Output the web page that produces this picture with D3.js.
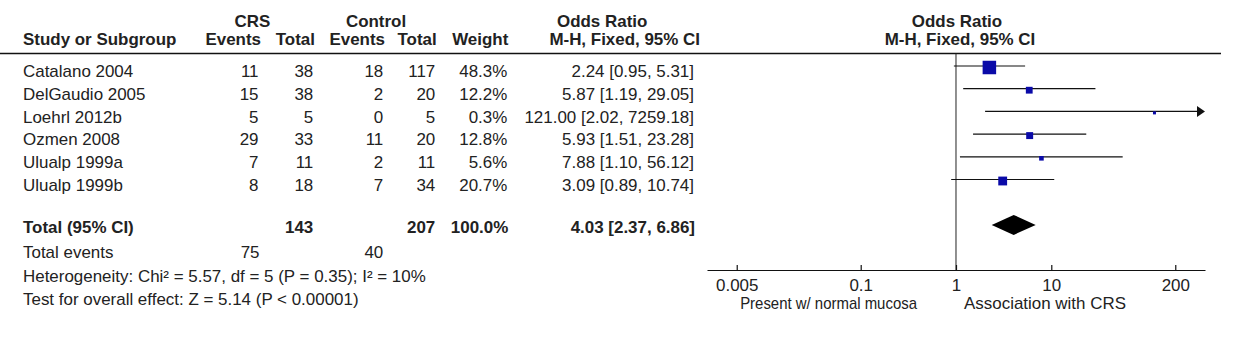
<!DOCTYPE html>
<html>
<head>
<meta charset="utf-8">
<script src="https://cdn.jsdelivr.net/npm/d3@7"></script>
<style>
  html, body { margin: 0; padding: 0; background: #fff; }
  svg { display: block; }
  text { font-family: "Liberation Sans", Arial, sans-serif; font-size: 16px; fill: #222; }
</style>
</head>
<body>
<svg id="chart" width="1245" height="338"></svg>
<script>
// ---- Study data ----
const studies = ["Catalano 2004", "DelGaudio 2005", "Loehrl 2012b", "Ozmen 2008", "Ulualp 1999a", "Ulualp 1999b"];
const crsEvents = [11, 15, 5, 29, 7, 8];
const crsTotal = [38, 38, 5, 33, 11, 18];
const controlEvents = [18, 2, 0, 11, 2, 7];
const controlTotal = [117, 20, 5, 20, 11, 34];
const weights = [48.3, 12.2, 0.3, 12.8, 5.6, 20.7];
const oddsRatio = [2.24, 5.87, 121.00, 5.93, 7.88, 3.09];
const ciLower = [0.95, 1.19, 2.02, 1.51, 1.10, 0.89];
const ciUpper = [5.31, 29.05, 7259.18, 23.28, 56.12, 10.74];

// ---- Pooled result ----
const pooledEstimate = [4.03, 2.37, 6.86];   // OR, lower, upper
const totalParticipants = [143, 207];        // CRS, control
const totalEvents = [75, 40];                // CRS, control
const totalWeight = 100.0;

// ---- Axis & notes ----
const axisTicks = [0.005, 0.1, 1, 10, 200];
const footnotes = [
  "Heterogeneity: Chi\u00b2 = 5.57, df = 5 (P = 0.35); I\u00b2 = 10%",
  "Test for overall effect: Z = 5.14 (P < 0.00001)"
];
const favourLabels = ["Present w/ normal mucosa", "Association with CRS"];

// ---- Drawing ----
const svg = d3.select("#chart");
const SX = 1.06;                       // slight horizontal stretch of the type
const f2 = d3.format(".2f");
const f1 = d3.format(".1f");

function label(x, y, s, anchor = "start", bold = false, sx = SX) {
  return svg.append("text")
    .attr("transform", `translate(${x},${y}) scale(${sx},1)`)
    .attr("text-anchor", anchor)
    .style("font-weight", bold ? "bold" : "normal")
    .text(s);
}

const x = d3.scaleLog().domain([0.002438, 410.2]).range([707, 1205]);
const rowY = d3.scaleLinear().domain([0, 7]).range([66, 224.9]);
const boxSize = d3.scaleSqrt().domain([0, 48.3]).range([0, 13.5]);

// header
label(252.5, 26.7, "CRS", "middle", true);
label(376, 26.7, "Control", "middle", true);
label(557, 26.7, "Odds Ratio", "start", true);
label(957, 26.7, "Odds Ratio", "middle", true);

label(23, 45, "Study or Subgroup", "start", true);
label(261, 45, "Events", "end", true);
label(315, 45, "Total", "end", true);
label(385, 45, "Events", "end", true);
label(436.7, 45, "Total", "end", true);
label(508.3, 45, "Weight", "end", true);
label(700, 45, "M-H, Fixed, 95% CI", "end", true);
label(960, 45, "M-H, Fixed, 95% CI", "middle", true);

svg.append("line")
  .attr("x1", 0).attr("x2", 1221).attr("y1", 53.5).attr("y2", 53.5)
  .attr("stroke", "#111").attr("stroke-width", 1.4);

// line of no effect
svg.append("line")
  .attr("x1", x(1)).attr("x2", x(1)).attr("y1", 53.5).attr("y2", 270)
  .attr("stroke", "#222").attr("stroke-width", 1);

// study rows
studies.forEach((name, i) => {
  const ty = rowY(i) + 11.3;
  label(23, ty, name);
  label(258.5, ty, String(crsEvents[i]), "end");
  label(313.3, ty, String(crsTotal[i]), "end");
  label(383.3, ty, String(controlEvents[i]), "end");
  label(435.3, ty, String(controlTotal[i]), "end");
  label(507.3, ty, f1(weights[i]) + "%", "end");
  label(694, ty, `${f2(oddsRatio[i])} [${f2(ciLower[i])}, ${f2(ciUpper[i])}]`, "end");
});

// confidence intervals
const [dMin, dMax] = x.domain();
const [rMin, rMax] = x.range();
const ci = svg.append("g");
studies.forEach((name, i) => {
  const y = rowY(i);
  const clippedHigh = ciUpper[i] > dMax;
  const x1 = ciLower[i] < dMin ? rMin : x(ciLower[i]);
  const x2 = clippedHigh ? rMax - 6 : x(ciUpper[i]);
  ci.append("line")
    .attr("x1", x1).attr("x2", x2).attr("y1", y).attr("y2", y)
    .attr("stroke", "#111").attr("stroke-width", 1.2);
  if (clippedHigh) {
    ci.append("path")
      .attr("d", `M${rMax - 8},${y - 5.5}L${rMax},${y}L${rMax - 8},${y + 5.5}Z`)
      .attr("fill", "#111");
  }
  const s = Math.max(3, boxSize(weights[i]));
  ci.append("rect")
    .attr("x", x(oddsRatio[i]) - s / 2)
    .attr("y", y + 1.5 - s / 2)
    .attr("width", s).attr("height", s)
    .attr("fill", "#0a0aa8");
});

// total row
const totY = 233;
label(23, totY, "Total (95% CI)", "start", true);
label(313.3, totY, String(totalParticipants[0]), "end", true);
label(435.3, totY, String(totalParticipants[1]), "end", true);
label(508.3, totY, f1(totalWeight) + "%", "end", true);
label(695, totY, `${f2(pooledEstimate[0])} [${f2(pooledEstimate[1])}, ${f2(pooledEstimate[2])}]`, "end", true);

const dy = rowY(7);
svg.append("path")
  .attr("d", `M${x(pooledEstimate[1])},${dy}L${x(pooledEstimate[0])},${dy - 10}L${x(pooledEstimate[2])},${dy}L${x(pooledEstimate[0])},${dy + 10}Z`)
  .attr("fill", "#000");

// footer
label(23, 258.3, "Total events");
label(259.5, 258.3, String(totalEvents[0]), "end");
label(383.3, 258.3, String(totalEvents[1]), "end");
label(23, 281.7, footnotes[0]);
label(23, 305, footnotes[1]);

// axis
const axis = d3.axisBottom(x)
  .tickValues(axisTicks)
  .tickFormat(d => String(d))
  .tickSize(-5)
  .tickSizeOuter(0)
  .tickPadding(10);

const ag = svg.append("g").attr("transform", "translate(0,270)").call(axis);
ag.select(".domain").attr("stroke", "#111").attr("stroke-width", 1.2);
ag.selectAll(".tick line").attr("stroke", "#111").attr("stroke-width", 1.2);
ag.selectAll(".tick text")
  .attr("font-family", null).attr("font-size", null)
  .attr("fill", "#222")
  .attr("transform", `scale(${SX},1)`);

label(917, 309.3, favourLabels[0], "end", false, 0.935);
label(964, 309.3, favourLabels[1], "start");
</script>
</body>
</html>
